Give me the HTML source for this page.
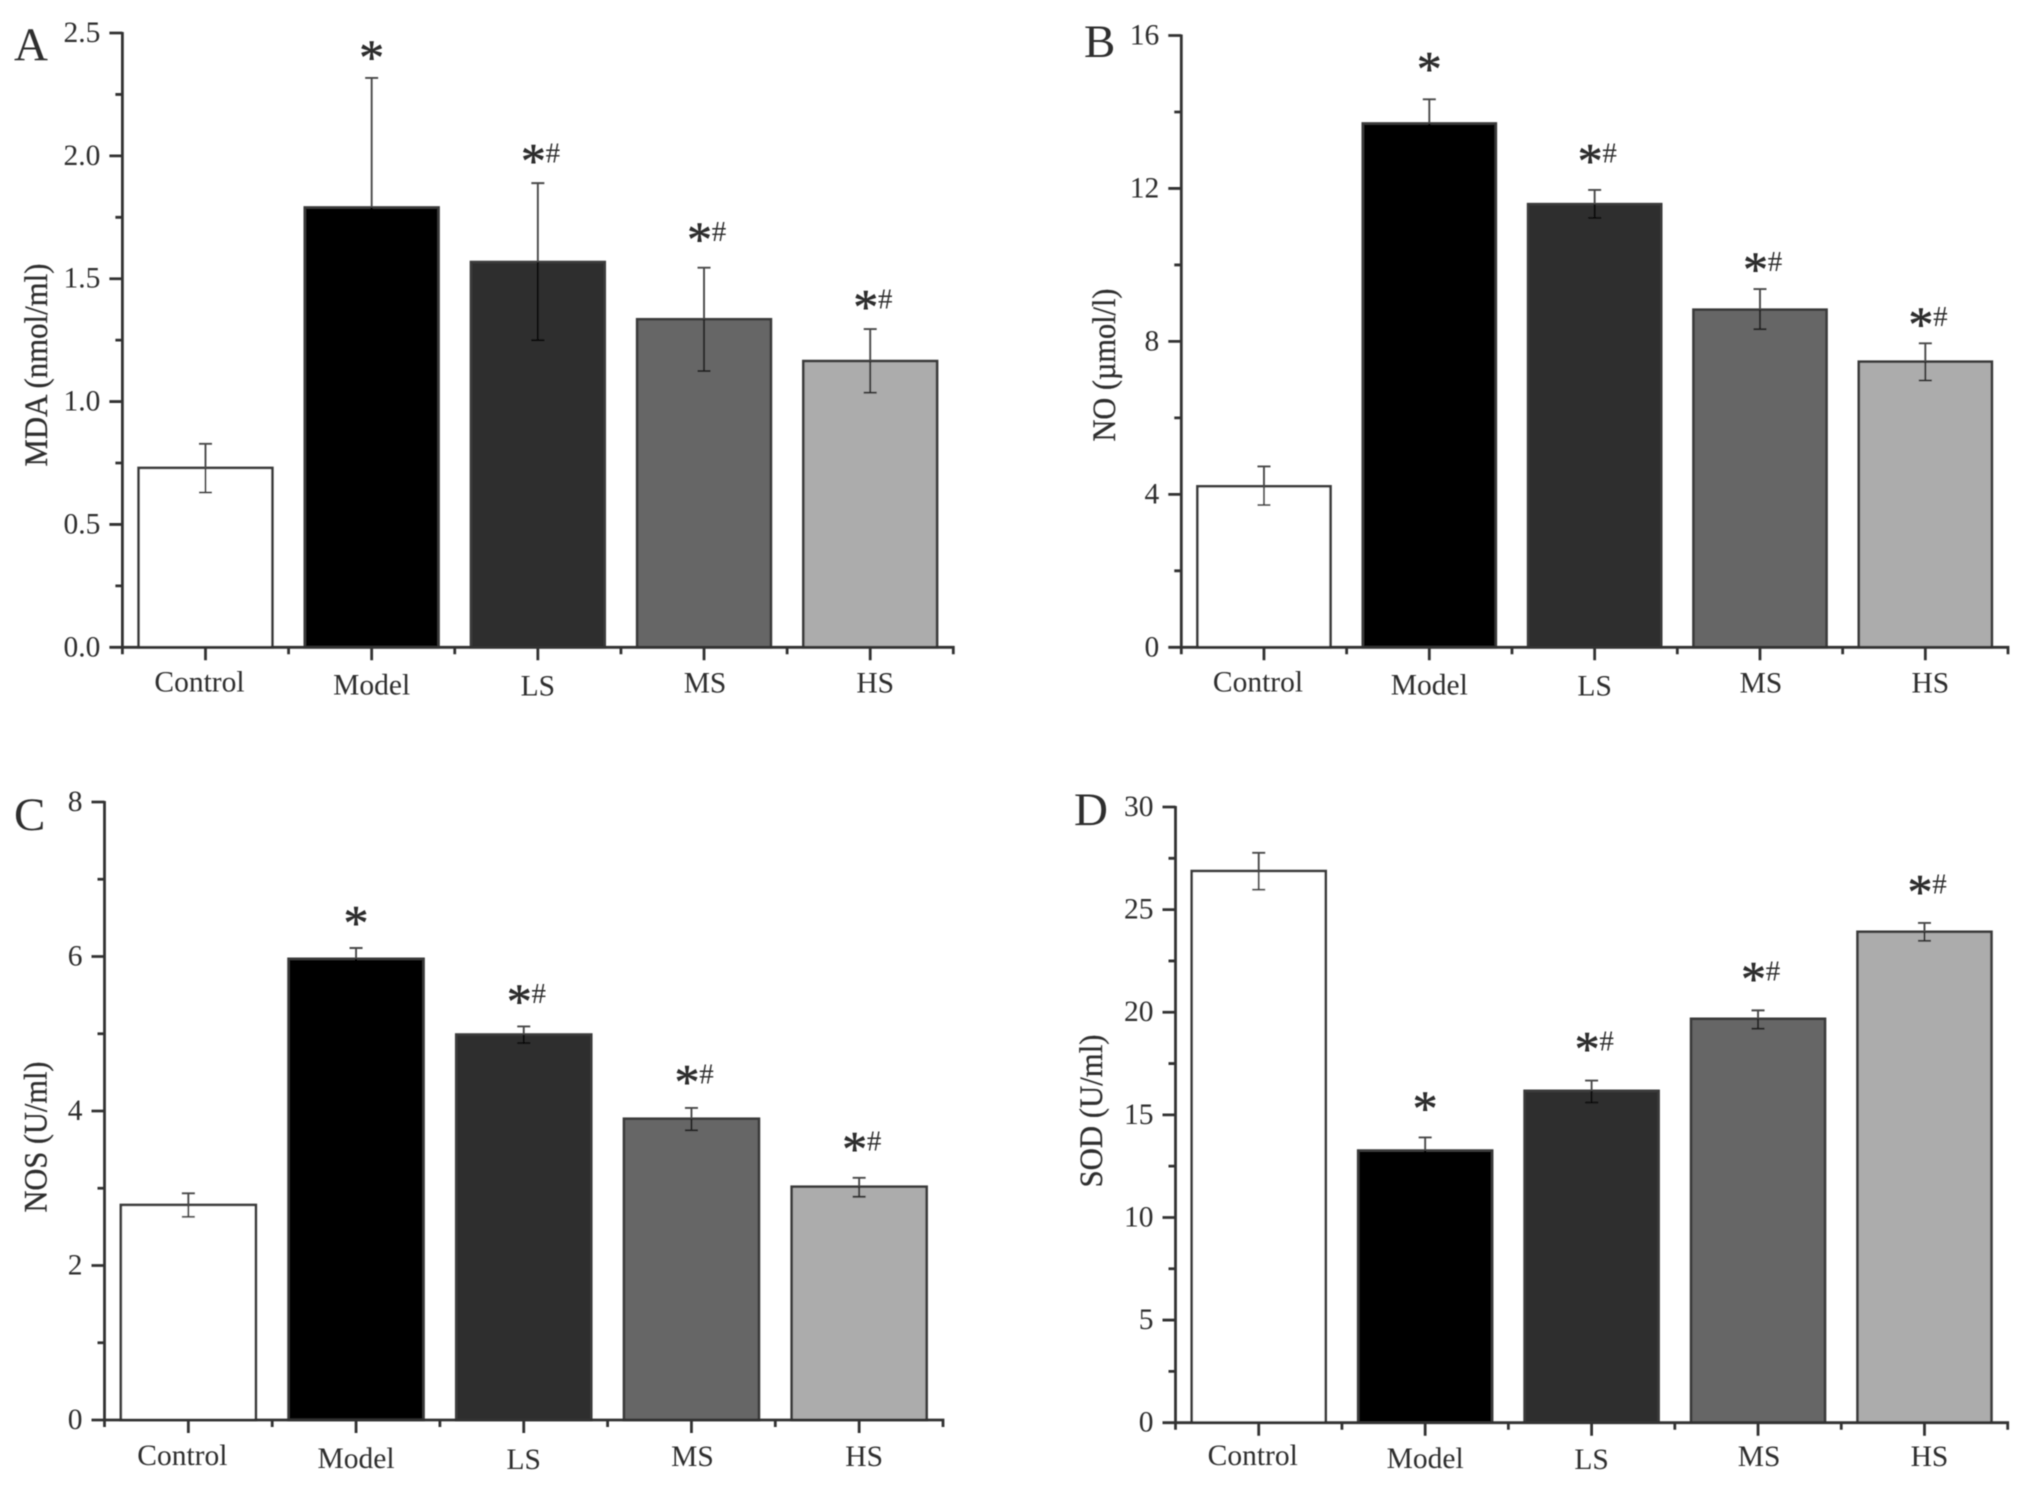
<!DOCTYPE html>
<html lang="en">
<head>
<meta charset="utf-8">
<title>MDA, NO, NOS and SOD bar charts</title>
<style>
html,body{margin:0;padding:0;background:#fff;width:2031px;height:1493px;overflow:hidden}
svg{display:block}
text{font-family:"Liberation Serif",serif;fill:#2e2e2e}
</style>
</head>
<body>
<svg id="figure" xmlns="http://www.w3.org/2000/svg" width="2031" height="1493" viewBox="0 0 2031 1493">
<defs><filter id="soft" x="-2%" y="-2%" width="104%" height="104%"><feGaussianBlur stdDeviation="0.6"/></filter></defs>
<rect x="0" y="0" width="2031" height="1493" fill="#fff"/>
<g id="root" filter="url(#soft)"></g>
</svg>
<script>
const categories = ['Control','Model','LS','MS','HS'];
const barColors = ['#ffffff','#000000','#2e2e2e','#666666','#acacac'];
const lowerErrColors = ['#4a4a4a','#000000','#111111','#222222','#333333'];
const hasHash = [false,false,true,true,true];

const tickLabelsA = ['0.0','0.5','1.0','1.5','2.0','2.5'];
const valuesA = [0.73,1.79,1.568,1.335,1.165];
const errUpperA = [0.828,2.317,1.889,1.545,1.295];
const errLowerA = [0.63,1.263,1.25,1.124,1.036];
const markLevelA = [null,2.42,2.0,1.68,1.405];

const tickLabelsB = ['0','4','8','12','16'];
const valuesB = [4.21,13.7,11.59,8.83,7.47];
const errUpperB = [4.73,14.33,11.96,9.37,7.95];
const errLowerB = [3.72,13.07,11.23,8.32,6.98];
const markLevelB = [null,15.26,12.85,10.01,8.57];

const tickLabelsC = ['0','2','4','6','8'];
const valuesC = [2.784,5.97,4.99,3.9,3.02];
const errUpperC = [2.935,6.11,5.095,4.04,3.135];
const errLowerC = [2.63,5.83,4.88,3.75,2.89];
const markLevelC = [null,6.5,5.48,4.44,3.57];

const tickLabelsD = ['0','5','10','15','20','25','30'];
const valuesD = [26.88,13.26,16.17,19.68,23.92];
const errUpperD = [27.77,13.9,16.67,20.09,24.35];
const errLowerD = [25.97,12.62,15.6,19.2,23.48];
const markLevelD = [null,15.56,18.45,21.87,26.1];

const labelNudgeX = [-6,0,0,1,5];
const labelNudgeY = [35,38,39,36,36];

const panels = [
  {id:'a', letter:'A', title:'MDA (nmol/ml)', titleLen:203, ticks:tickLabelsA, values:valuesA, hi:errUpperA, lo:errLowerA, marks:markLevelA,
   left:122.4, right:953.3, base:647.3, top:33, letterX:14, letterY:60, titleX:37, titleY:365, labelDrop:9},
  {id:'b', letter:'B', title:'NO (\u00b5mol/l)', titleLen:153, ticks:tickLabelsB, values:valuesB, hi:errUpperB, lo:errLowerB, marks:markLevelB,
   left:1181.3, right:2008, base:647.3, top:35.5, letterX:1084, letterY:57, titleX:1105, titleY:365, labelDrop:9},
  {id:'c', letter:'C', title:'NOS (U/ml)', titleLen:151, ticks:tickLabelsC, values:valuesC, hi:errUpperC, lo:errLowerC, marks:markLevelC,
   left:104.5, right:943, base:1420, top:802, letterX:14, letterY:830, titleX:36.5, titleY:1137, labelDrop:10},
  {id:'d', letter:'D', title:'SOD (U/ml)', titleLen:153, ticks:tickLabelsD, values:valuesD, hi:errUpperD, lo:errLowerD, marks:markLevelD,
   left:1175.5, right:2007.7, base:1422.7, top:807, letterX:1074, letterY:825, titleX:1092, titleY:1111, labelDrop:7.5}
];

const NS = 'http://www.w3.org/2000/svg';
const AXIS = '#333333';

function make(parent, tag, attrs, text) {
  const el = document.createElementNS(NS, tag);
  for (const k in attrs) el.setAttribute(k, attrs[k]);
  if (text !== undefined) el.textContent = text;
  parent.appendChild(el);
  return el;
}

function drawPanel(p) {
  const root = document.getElementById('root');
  const yMax = parseFloat(p.ticks[p.ticks.length - 1]);
  const yScale = v => p.base - (v / yMax) * (p.base - p.top);
  const slot = (p.right - p.left) / categories.length;
  const xCenter = i => p.left + slot * (i + 0.5);
  const barW = slot * 0.805;

  const g = make(root, 'g', {});
  
  

  const letter = make(g, 'text', {x:p.letterX, y:p.letterY, 'font-size':47}, p.letter);
  
  

  const title = make(g, 'text', {x:0, y:0, 'font-size':33, 'text-anchor':'middle', 'dominant-baseline':'central',
    textLength:p.titleLen, lengthAdjust:'spacingAndGlyphs',
    transform:'translate(' + p.titleX + ' ' + p.titleY + ') rotate(-90)', stroke:'#2e2e2e', 'stroke-width':0.3}, p.title);
  
  

  categories.forEach((c, i) => {
    const x = xCenter(i);
    const bar = make(g, 'rect', {x:x - barW / 2, y:yScale(p.values[i]), width:barW, height:p.base - yScale(p.values[i]),
      fill:barColors[i], stroke:'#3a3a3a', 'stroke-width':2.6});
    
    

    const errTop = make(g, 'path', {d:'M' + x + ' ' + yScale(p.hi[i]) + 'V' + yScale(p.values[i]) +
      'M' + (x - 6.5) + ' ' + yScale(p.hi[i]) + 'H' + (x + 6.5),
      fill:'none', stroke:'#4a4a4a', 'stroke-width':1.9});
    
    

    const errLow = make(g, 'path', {d:'M' + x + ' ' + yScale(p.values[i]) + 'V' + yScale(p.lo[i]) +
      'M' + (x - 6.5) + ' ' + yScale(p.lo[i]) + 'H' + (x + 6.5),
      fill:'none', stroke:lowerErrColors[i], 'stroke-width':1.9});
    
    

    if (p.marks[i] !== null) {
      const my = yScale(p.marks[i]);
      const star = make(g, 'text', {x:hasHash[i] ? x - 4.5 : x, y:my + 21.5, 'font-size':50, 'text-anchor':'middle', fill:'#222', stroke:'#222', 'stroke-width':0.5}, '*');
      
      
      if (hasHash[i]) {
        const hash = make(g, 'text', {x:x + 15, y:my + 6.5, 'font-size':29, 'text-anchor':'middle', fill:'#2a2a2a'}, '#');
        
        
      }
    }

    const label = make(g, 'text', {x:x + labelNudgeX[i], y:p.base + labelNudgeY[i] + p.labelDrop, 'font-size':29.5, 'text-anchor':'middle'}, c);
    
    
  });

  let axisPath = 'M' + p.left + ' ' + (p.top - 1) + 'V' + (p.base + 7) + 'M' + (p.left - 13) + ' ' + p.base + 'H' + p.right + 'V' + (p.base + 7);
  for (let i = 0; i < categories.length; i++) {
    axisPath += 'M' + xCenter(i) + ' ' + p.base + 'v13';
    if (i > 0) axisPath += 'M' + (p.left + slot * i) + ' ' + p.base + 'v7';
  }
  p.ticks.forEach((t, i) => {
    const v = parseFloat(t);
    const y = yScale(v);
    axisPath += 'M' + (p.left - 13) + ' ' + y + 'H' + p.left;
    if (i < p.ticks.length - 1) {
      const ym = yScale((v + parseFloat(p.ticks[i + 1])) / 2);
      axisPath += 'M' + (p.left - 7) + ' ' + ym + 'H' + p.left;
    }
    const tick = make(g, 'text', {x:p.left - 22, y:y + 9, 'font-size':29.5, 'text-anchor':'end'}, t);
    
    
  });
  const axes = make(g, 'path', {d:axisPath, fill:'none', stroke:AXIS, 'stroke-width':2.8});
  
  
}

panels.forEach(drawPanel);
</script>
</body>
</html>
